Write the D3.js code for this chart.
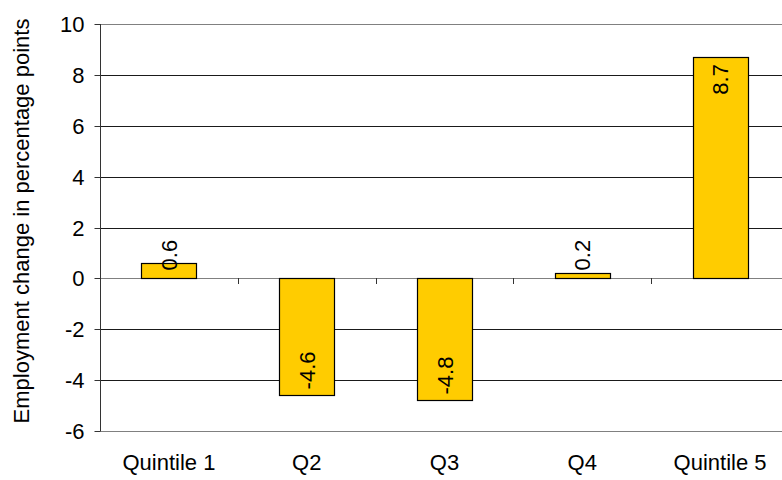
<!DOCTYPE html>
<html>
<head>
<meta charset="utf-8">
<script src="https://cdn.jsdelivr.net/npm/d3@7"></script>
<style>
  html, body { margin: 0; padding: 0; background: #fff; }
  svg { display: block; font-family: "Liberation Sans", Arial, sans-serif; }
</style>
</head>
<body>
<svg id="chart" width="782" height="480"></svg>
<script>
// Employment change by wage quintile, percentage points
const categories = ["Quintile 1", "Q2", "Q3", "Q4", "Quintile 5"];
const values = [0.6, -4.6, -4.8, 0.2, 8.7];
const yTicks = [-6, -4, -2, 0, 2, 4, 6, 8, 10];

const svg = d3.select("#chart");
const plotLeft = 100, plotRight = 789, plotTop = 24, plotBottom = 431;
const fontSize = 22;

const x = d3.scaleBand().domain(categories).range([plotLeft, plotRight]).paddingInner(0.6).paddingOuter(0.3);
const xb = d3.scaleBand().domain(categories).range([plotLeft, plotRight]);
const y = d3.scaleLinear().domain([-6, 10]).range([plotBottom, plotTop]);

// plain hyphen for negatives
const fmtTick = d => String(d);
const fmtVal = d => d.toFixed(1);

// horizontal gridlines
svg.append("g").selectAll("line").data(yTicks).join("line")
  .attr("x1", plotLeft).attr("x2", 782)
  .attr("y1", d => Math.round(y(d)) + 0.5).attr("y2", d => Math.round(y(d)) + 0.5)
  .attr("stroke", d => (d === 0 || d === 10 || d === -6) ? "#808080" : "#1a1a1a")
  .attr("stroke-width", 1);

// y axis
const yAxis = svg.append("g")
  .attr("transform", `translate(${plotLeft + 0.5},0)`)
  .call(d3.axisLeft(y).tickValues(yTicks).tickSize(6).tickPadding(10).tickFormat(fmtTick));
yAxis.select(".domain").attr("stroke", "#333").attr("d", `M0,${plotTop}V${plotBottom}`);
yAxis.selectAll(".tick line").attr("stroke", "#333");
yAxis.selectAll(".tick").attr("transform", d => `translate(0,${Math.round(y(d)) + 0.5})`);
yAxis.selectAll("text").attr("font-size", fontSize).attr("fill", "#000")
  .attr("font-family", "Liberation Sans, Arial, sans-serif");

// category tick marks on zero line
svg.append("g").selectAll("line").data(categories.slice(1)).join("line")
  .attr("x1", d => Math.round(xb(d)) + 0.5).attr("x2", d => Math.round(xb(d)) + 0.5)
  .attr("y1", Math.round(y(0))).attr("y2", Math.round(y(0)) + 6)
  .attr("stroke", "#333");

// bars
svg.append("g").selectAll("rect").data(values).join("rect")
  .attr("x", (d, i) => Math.round(x(categories[i])) + 0.5)
  .attr("width", Math.round(x.bandwidth()))
  .attr("y", d => Math.round(y(Math.max(0, d))) + 0.5)
  .attr("height", d => Math.round(Math.abs(y(d) - y(0))))
  .attr("fill", "#FFCC00")
  .attr("stroke", "#000")
  .attr("stroke-width", 1.2);

// value labels, rotated; inside the bar end when it fits, else above the zero line
const labelLen = 38;
const fitsInside = d => Math.abs(y(d) - y(0)) > labelLen + 10;
svg.append("g").selectAll("text").data(values).join("text")
  .attr("transform", (d, i) => {
    const cx = x(categories[i]) + x.bandwidth() / 2;
    let ty;
    if (fitsInside(d)) {
      ty = d >= 0 ? y(d) + 7 : y(d) - 6;
    } else {
      ty = y(0) - 8;
    }
    return `translate(${cx + 8},${ty}) rotate(-90)`;
  })
  .attr("text-anchor", d => fitsInside(d) ? (d >= 0 ? "end" : "start") : "start")
  .attr("font-size", fontSize)
  .attr("fill", "#000")
  .text(fmtVal);

// category labels
svg.append("g").selectAll("text").data(categories).join("text")
  .attr("x", d => xb(d) + xb.bandwidth() / 2)
  .attr("y", 470)
  .attr("text-anchor", "middle")
  .attr("font-size", fontSize)
  .attr("fill", "#000")
  .text(d => d);

// y axis title
svg.append("text")
  .attr("transform", `translate(29,221) rotate(-90)`)
  .attr("text-anchor", "middle")
  .attr("font-size", fontSize)
  .attr("fill", "#000")
  .text("Employment change in percentage points");
</script>
</body>
</html>
